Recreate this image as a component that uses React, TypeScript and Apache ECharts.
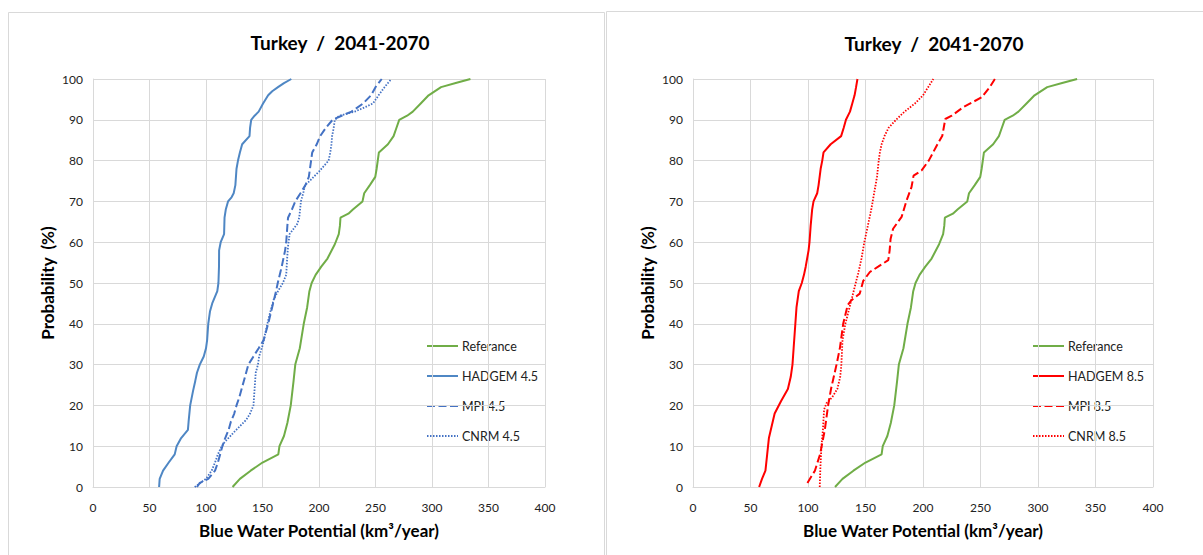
import React, { useEffect, useRef } from "react";
import * as echarts from "echarts";

const TITLE = "Turkey  /  2041-2070";
const X_NAME = "Blue Water Potential (km³/year)";
const Y_NAME = "Probability  (%)";

// Reference (same in both panels)
const refProb = [0, 2, 4, 6, 8, 10, 12.5, 15.7, 20, 26, 30, 34, 40, 44, 48, 50, 52, 54, 56, 59.5, 62, 64, 66, 67, 68, 70, 72, 74, 76, 78, 80, 82, 84, 86, 88, 90, 91, 92, 94, 96, 98, 99, 100];
const refVal = [123.5, 130, 139.5, 150, 164, 165, 169, 172, 175, 177.5, 179, 183, 186.5, 189.5, 191.5, 193.5, 197, 202, 207.5, 214, 217.5, 218.5, 219, 226, 230, 238.5, 240, 245, 249.8, 251, 252, 253, 261, 266, 268.5, 271, 278, 283, 290, 297, 308, 321, 334];

// RCP 4.5
const hadgem45Prob = [0, 2, 4, 6, 8, 10, 12, 14, 16, 20, 23.5, 26, 28, 30, 32, 34, 36, 40, 43, 45, 48, 50, 54, 58, 60, 62, 66, 68, 70, 71, 72, 74, 78, 80, 82, 84, 86, 88, 90, 91, 92, 94, 96, 97, 98, 99, 100];
const hadgem45Val = [58.5, 59, 62, 67, 72.3, 74, 78, 84, 84.6, 86, 88.5, 90.5, 92, 94.5, 98, 100, 101, 102, 103.5, 105.5, 110, 111, 111.5, 111.6, 113, 116, 116.4, 117.5, 119.5, 122.6, 124.5, 126, 127, 128.3, 130, 132, 138.5, 139, 140, 143, 146.6, 150.5, 155, 158.6, 163.7, 169, 175.5];

const mpi45Prob = [0, 1, 2, 4, 6, 8, 10, 12, 14, 16, 18, 20, 22, 24, 26, 28, 30, 32, 34, 36, 38, 40, 44, 48, 50, 54, 58, 60, 64, 66, 68, 70, 72, 74, 76, 78, 80, 82, 84, 86, 88, 90, 91, 92, 94, 96, 98, 100];
const mpi45Val = [92, 94.5, 102, 108, 110.5, 112.5, 114.5, 117, 120, 122, 125, 127, 129.5, 131.5, 133.5, 135.5, 137.5, 142, 146.6, 151, 153, 155, 158.5, 162, 163.5, 167, 170, 171, 172, 172.6, 176, 179, 183.6, 188, 191, 192, 193, 194, 198, 201, 206, 212, 220, 228.8, 239, 246, 250, 255.5];

const cnrm45Prob = [0, 2, 4, 6, 8, 10, 11, 13.5, 16.5, 18, 20, 24, 28, 30, 32, 35, 38, 42, 46, 48, 50, 52, 56, 59, 62, 64.5, 66, 70, 72, 74, 75, 77.5, 80, 82, 84, 86, 88, 90, 91, 92, 93, 94, 96, 98, 100];
const cnrm45Val = [90, 100, 105, 108, 110.5, 114, 116.5, 125, 135.7, 139, 142, 143, 144, 146, 147, 150.4, 152.7, 156, 160, 163.7, 168, 171, 171.8, 172.6, 174, 180.8, 182.5, 184, 186, 187.7, 191.7, 200.6, 208.5, 210, 211, 211.6, 213, 214, 218, 231.6, 240, 247.8, 252.7, 258, 264];

// RCP 8.5
const hadgem85Prob = [0, 2, 4, 8, 12, 18, 21, 24, 27, 30, 34, 40, 44, 48, 50, 52, 54, 58, 60, 64, 68, 70, 72, 74, 78, 80, 82, 84, 86, 88, 90, 92, 94, 96, 98, 100];
const hadgem85Val = [57.5, 60, 63, 64.5, 66, 71, 76.5, 82.5, 85, 86.5, 87.5, 89, 90, 92, 94.6, 96.5, 98, 100.5, 101.3, 102.3, 103.6, 104.8, 108, 109.2, 111, 112.4, 113.5, 119.7, 128.8, 131, 133, 136.5, 138.5, 140.5, 141.8, 143];

const mpi85Prob = [1, 4, 8, 14, 20, 24, 30, 34, 40, 44.6, 45.8, 47.4, 50.5, 52.7, 54, 55.6, 58, 60.8, 63.3, 66.2, 70.2, 73.5, 76.3, 77.6, 80, 83.7, 86.1, 88, 90.2, 91, 93.1, 95.5, 98, 100];
const mpi85Val = [99.5, 106, 110.5, 114.6, 117.5, 120, 124.8, 127.7, 130.6, 134.5, 137.8, 145, 148, 153.8, 161, 169.8, 171, 171.8, 174, 181.4, 185.7, 190, 191.8, 198.8, 205, 212, 216.8, 218, 219.4, 225, 235, 251, 258, 262.5];

const cnrm85Prob = [0, 5, 10, 14, 19, 20.5, 22, 24, 27, 30, 36, 40, 45, 50, 52.5, 56, 60, 64, 68, 72, 76, 80, 82, 84, 86, 88, 90, 92, 94, 96, 98, 100];
const cnrm85Val = [110.2, 110.8, 111.7, 113, 114, 116, 121, 125.5, 128, 129, 130, 132.5, 137, 141.5, 143.8, 146.5, 149, 152, 155, 157.5, 160, 161.5, 162.5, 164, 166.5, 170, 176.5, 184, 193, 200, 204.5, 209];

const legend45 = ["Referance", "HADGEM 4.5", "MPI 4.5", "CNRM 4.5"];
const legend85 = ["Referance", "HADGEM 8.5", "MPI 8.5", "CNRM 8.5"];

const GREEN = "#70AD47";
const BLUE_SOLID = "#4F87C4";
const BLUE = "#4472C4";
const RED = "#FF0000";
const FONT = "Lato, 'Liberation Sans', sans-serif";

const DASH: number[] = [8, 3.5];
const DOT: number[] = [1.5, 1.5];

const pairs = (p: number[], v: number[]) => p.map((pp, i) => [v[i], pp]);

export default function App() {
  const ref = useRef<HTMLDivElement>(null);
  useEffect(() => {
    const chart = echarts.init(ref.current!, null, { renderer: "svg" });

    const xAxisBase = (gridIndex: number) => ({
      type: "value",
      gridIndex,
      min: 0,
      max: 400,
      interval: 50,
      name: X_NAME,
      nameLocation: "middle",
      nameGap: 35,
      nameTextStyle: { fontFamily: FONT, fontWeight: "bold", fontSize: 17, color: "#000" },
      axisLine: { show: true, lineStyle: { color: "#D9D9D9", width: 1 } },
      axisTick: { show: false },
      axisLabel: { fontFamily: FONT, fontSize: 12, color: "#222", margin: 14 },
      splitLine: { show: true, lineStyle: { color: "#D9D9D9", width: 1 } },
    });
    const yAxisBase = (gridIndex: number) => ({
      type: "value",
      gridIndex,
      min: 0,
      max: 100,
      interval: 10,
      name: Y_NAME,
      nameLocation: "middle",
      nameGap: 37,
      nameTextStyle: { fontFamily: FONT, fontWeight: "bold", fontSize: 17, color: "#000" },
      axisLine: { show: true, lineStyle: { color: "#D9D9D9", width: 1 } },
      axisTick: { show: false },
      axisLabel: { fontFamily: FONT, fontSize: 12, color: "#222", margin: 10 },
      splitLine: { show: true, lineStyle: { color: "#D9D9D9", width: 1 } },
    });

    const line = (name: string, p: number[], v: number[], idx: number, color: string, type: any, width = 2) => ({
      name,
      type: "line",
      xAxisIndex: idx,
      yAxisIndex: idx,
      data: pairs(p, v),
      symbol: "none",
      showSymbol: false,
      lineStyle: { color, width, type },
      itemStyle: { color },
      z: 3,
    });

    // manual legends (line keys with dash styles, no symbols)
    const legendGraphics = (names: string[], colors: string[], dashes: (number[] | null)[], widths: number[], x0: number, y0: number) => {
      const out: any[] = [];
      names.forEach((n, i) => {
        const y = y0 + i * 30;
        out.push({
          type: "line",
          silent: true,
          shape: { x1: x0, y1: y, x2: x0 + 31, y2: y },
          style: { stroke: colors[i], lineWidth: widths[i], lineDash: dashes[i] || undefined },
        });
        out.push({
          type: "text",
          silent: true,
          x: x0 + 35,
          y,
          style: { text: n, fontFamily: FONT, fontSize: 12.5, fill: "#222", verticalAlign: "middle", align: "left" },
        });
      });
      return out;
    };

    chart.setOption({
      animation: false,
      backgroundColor: "#fff",
      title: [
        { text: TITLE, left: 335, top: 28, textAlign: "center", textStyle: { fontFamily: FONT, fontWeight: "bold", fontSize: 19, color: "#000" } },
        { text: TITLE, left: 929, top: 29, textAlign: "center", textStyle: { fontFamily: FONT, fontWeight: "bold", fontSize: 19, color: "#000" } },
      ],
      grid: [
        { left: 93, top: 79, width: 452, height: 408 },
        { left: 693, top: 79, width: 460, height: 408 },
      ],
      xAxis: [xAxisBase(0), xAxisBase(1)],
      yAxis: [yAxisBase(0), yAxisBase(1)],
      graphic: [
        { type: "rect", silent: true, shape: { x: 8.5, y: 12.5, width: 596, height: 560 }, style: { fill: "none", stroke: "#D9D9D9", lineWidth: 1 } },
        { type: "rect", silent: true, shape: { x: 606.5, y: 11.5, width: 600, height: 560 }, style: { fill: "none", stroke: "#D9D9D9", lineWidth: 1 } },
        ...legendGraphics(legend45, [GREEN, BLUE_SOLID, BLUE, BLUE], [null, null, DASH, DOT], [2, 2, 2.2, 1.8], 427, 346),
        ...legendGraphics(legend85, [GREEN, RED, RED, RED], [null, null, DASH, DOT], [2, 2, 2.2, 1.8], 1033, 346),
      ],
      series: [
        line("Referance", refProb, refVal, 0, GREEN, "solid"),
        line("HADGEM 4.5", hadgem45Prob, hadgem45Val, 0, BLUE_SOLID, "solid"),
        line("MPI 4.5", mpi45Prob, mpi45Val, 0, BLUE, DASH),
        line("CNRM 4.5", cnrm45Prob, cnrm45Val, 0, BLUE, DOT, 1.8),
        line("Referance", refProb, refVal, 1, GREEN, "solid"),
        line("HADGEM 8.5", hadgem85Prob, hadgem85Val, 1, RED, "solid"),
        line("MPI 8.5", mpi85Prob, mpi85Val, 1, RED, DASH),
        line("CNRM 8.5", cnrm85Prob, cnrm85Val, 1, RED, DOT, 1.8),
      ],
    });
    return () => chart.dispose();
  }, []);
  return (
    <div
      ref={ref}
      style={{ position: "fixed", left: 0, top: 0, width: 1203, height: 555, background: "#fff" }}
    />
  );
}
